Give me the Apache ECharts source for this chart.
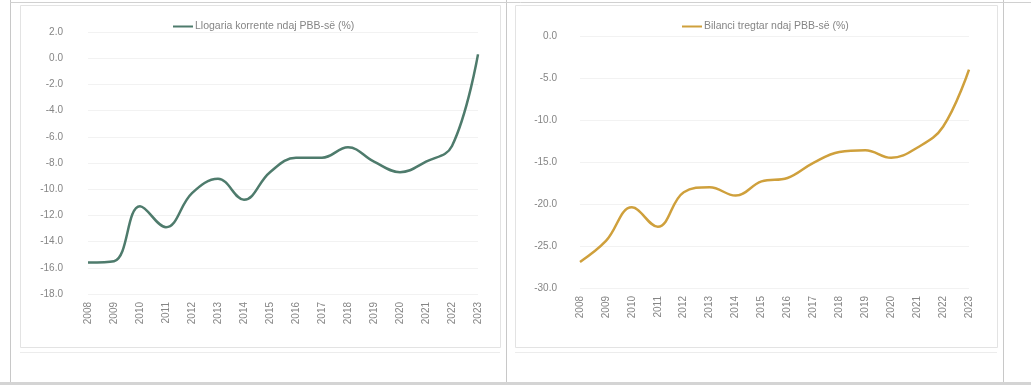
<!DOCTYPE html>
<html>
<head>
<meta charset="utf-8">
<script src="https://cdn.jsdelivr.net/npm/echarts@6/dist/echarts.min.js"></script>
<style>
html,body{margin:0;padding:0;background:#fff;}
#c{width:1031px;height:385px;}
</style>
</head>
<body>
<div id="c"></div>
<script>
const years = ['2008','2009','2010','2011','2012','2013','2014','2015','2016','2017','2018','2019','2020','2021','2022','2023'];
const currentAccount = [-15.6, -15.5, -11.3, -12.9, -10.3, -9.2, -10.8, -8.7, -7.6, -7.6, -6.8, -7.9, -8.7, -7.9, -6.7, 0.3];
const tradeBalance = [-26.9, -24.4, -20.4, -22.7, -18.6, -18.0, -19.0, -17.3, -16.9, -15.1, -13.8, -13.6, -14.5, -13.3, -10.8, -4.0];
const leftName = 'Llogaria korrente ndaj PBB-së (%)';
const rightName = 'Bilanci tregtar ndaj PBB-së (%)';

const FONT = 'Liberation Sans';
const TXT = '#858585';
const chart = echarts.init(document.getElementById('c'), null, {renderer: 'canvas'});

function xAxis(gi) {
  return {
    type: 'category', gridIndex: gi, data: years, boundaryGap: false,
    axisLine: {show: false}, axisTick: {show: false},
    axisLabel: {rotate: 90, color: TXT, fontSize: 10, fontFamily: FONT, margin: 8, interval: 0}
  };
}
function yAxis(gi, min, max, interval, margin) {
  return {
    type: 'value', gridIndex: gi, min: min, max: max, interval: interval,
    axisLine: {show: false}, axisTick: {show: false},
    splitLine: {lineStyle: {color: '#f2f2f2', width: 1}},
    axisLabel: {color: TXT, fontSize: 10, fontFamily: FONT, margin: margin, formatter: v => v.toFixed(1)}
  };
}

chart.setOption({
  animation: false,
  backgroundColor: '#fff',
  graphic: [
    {type: 'rect', shape: {x: 20.5, y: 5.5, width: 480, height: 342}, style: {fill: 'none', stroke: '#e3e3e3', lineWidth: 1}, z: -1},
    {type: 'rect', shape: {x: 515.5, y: 5.5, width: 482, height: 342}, style: {fill: 'none', stroke: '#e3e3e3', lineWidth: 1}, z: -1},
    {type: 'line', shape: {x1: 20, y1: 352.5, x2: 500, y2: 352.5}, style: {stroke: '#ececec', lineWidth: 1}},
    {type: 'line', shape: {x1: 515, y1: 352.5, x2: 997, y2: 352.5}, style: {stroke: '#ececec', lineWidth: 1}},
    {type: 'line', shape: {x1: 10.5, y1: 0, x2: 10.5, y2: 383}, style: {stroke: '#c8c8c8', lineWidth: 1}},
    {type: 'line', shape: {x1: 506.5, y1: 0, x2: 506.5, y2: 383}, style: {stroke: '#c8c8c8', lineWidth: 1}},
    {type: 'line', shape: {x1: 1003.5, y1: 0, x2: 1003.5, y2: 383}, style: {stroke: '#c8c8c8', lineWidth: 1}},
    {type: 'line', shape: {x1: 10, y1: 2.5, x2: 1031, y2: 2.5}, style: {stroke: '#d0d0d0', lineWidth: 1}},
    {type: 'rect', shape: {x: 0, y: 382, width: 1031, height: 3}, style: {fill: '#d4d4d4'}}
  ],
  legend: [
    {data: [leftName], left: 168, top: 16, itemWidth: 20, itemHeight: 2, itemGap: 2, icon: 'rect',
     textStyle: {color: TXT, fontSize: 10.5, fontFamily: FONT, padding: [0,0,0,-3]}},
    {data: [rightName], left: 677, top: 16, itemWidth: 20, itemHeight: 2, itemGap: 2, icon: 'rect',
     textStyle: {color: TXT, fontSize: 10.5, fontFamily: FONT, padding: [0,0,0,-3]}}
  ],
  grid: [
    {left: 88, width: 390, top: 32, height: 262},
    {left: 580, width: 389, top: 36, height: 252}
  ],
  xAxis: [xAxis(0), xAxis(1)],
  yAxis: [yAxis(0, -18, 2, 2, 25), yAxis(1, -30, 0, 5, 23)],
  series: [
    {name: leftName, type: 'line', xAxisIndex: 0, yAxisIndex: 0, data: currentAccount, smooth: 0.4,
     showSymbol: false, lineStyle: {color: '#4e7b6c', width: 2.5}, itemStyle: {color: '#4e7b6c'}},
    {name: rightName, type: 'line', xAxisIndex: 1, yAxisIndex: 1, data: tradeBalance, smooth: 0.4,
     showSymbol: false, lineStyle: {color: '#cfa03c', width: 2.5}, itemStyle: {color: '#cfa03c'}}
  ]
});
</script>
</body>
</html>
